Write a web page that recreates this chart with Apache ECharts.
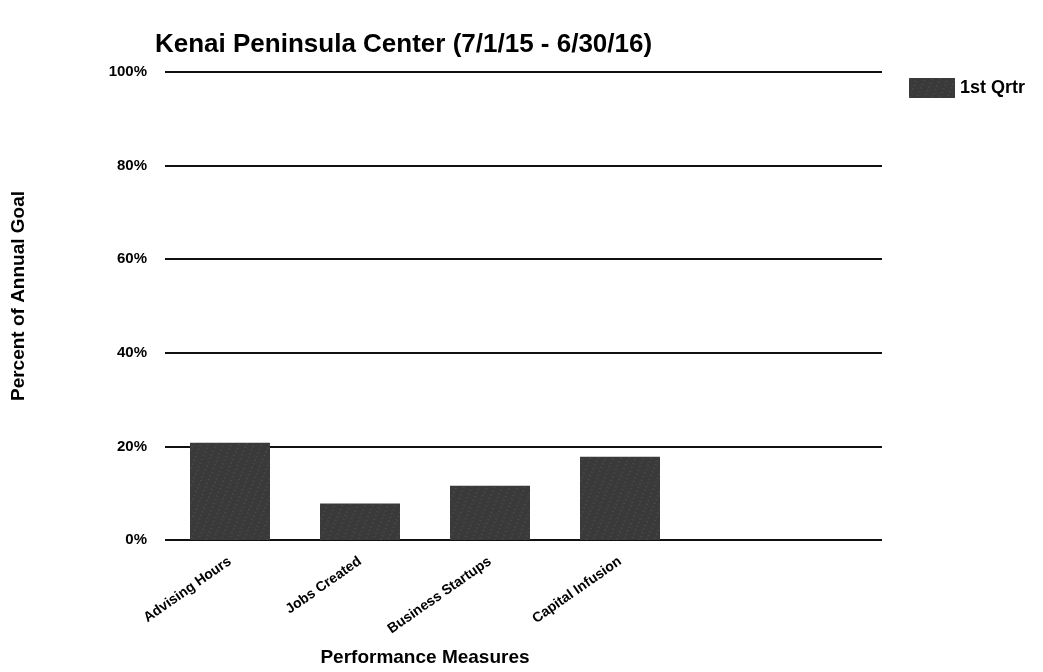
<!doctype html>
<html lang="en">
<head>
    <meta charset="utf-8">
    <title>Kenai Peninsula Center</title>
    <script src="https://cdn.jsdelivr.net/npm/echarts@6/dist/echarts.min.js"></script>
    <style>
        html, body { margin: 0; padding: 0; background: #fff; }
        #main { width: 1043px; height: 672px; }
    </style>
</head>
<body>
    <div id="main"></div>
    <script>
        // chart data
        var categories = ['Advising Hours', 'Jobs Created', 'Business Startups', 'Capital Infusion'];
        var firstQrtr = [20.8, 7.8, 11.6, 17.8];
        var yTicks = [0, 20, 40, 60, 80, 100];

        var font = '"Liberation Sans", Arial, sans-serif';
        var myChart = echarts.init(document.getElementById('main'));

        var option = {
            backgroundColor: '#fff',
            textStyle: { fontFamily: font, color: '#000' },
            title: {
                text: 'Kenai Peninsula Center (7/1/15 - 6/30/16)',
                left: 150,
                top: 27,
                textStyle: { fontFamily: font, fontSize: 26, fontWeight: 'bold', color: '#000' }
            },
            legend: {
                data: ['1st Qrtr'],
                icon: 'rect',
                left: 904,
                top: 73,
                itemWidth: 46,
                itemHeight: 20,
                itemGap: 6,
                textStyle: { fontFamily: font, fontSize: 18, fontWeight: 'bold', color: '#000' }
            },
            grid: [
                // bars
                { left: 165, right: 358, top: 72, bottom: 132, outerBoundsMode: 'none', containLabel: false },
                // gridlines across full width
                { left: 165, right: 161, top: 72, bottom: 132, outerBoundsMode: 'none', containLabel: false }
            ],
            xAxis: [{
                type: 'category',
                gridIndex: 0,
                data: categories,
                axisLine: { show: false },
                axisTick: { show: false },
                axisLabel: {
                    rotate: 35,
                    interval: 0,
                    margin: 20,
                    fontFamily: font,
                    fontSize: 14,
                    fontWeight: 'bold',
                    color: '#000'
                },
                name: 'Performance Measures',
                nameLocation: 'middle',
                nameGap: 108,
                nameTextStyle: { fontFamily: font, fontSize: 19, fontWeight: 'bold', color: '#000' }
            }, {
                type: 'value',
                gridIndex: 1,
                show: false
            }],
            yAxis: [{
                type: 'value',
                gridIndex: 0,
                min: yTicks[0],
                max: yTicks[yTicks.length - 1],
                interval: 20,
                axisLine: { show: false },
                axisTick: { show: false },
                splitLine: { show: false },
                axisLabel: {
                    formatter: '{value}%',
                    margin: 18,
                    fontFamily: font,
                    fontSize: 15,
                    fontWeight: 'bold',
                    color: '#000'
                },
                name: 'Percent of Annual Goal',
                nameLocation: 'middle',
                nameRotate: 90,
                nameGap: 137,
                nameTextStyle: { fontFamily: font, fontSize: 19, fontWeight: 'bold', color: '#000', padding: [0, 0, 0, 20] }
            }, {
                type: 'value',
                gridIndex: 1,
                min: yTicks[0],
                max: yTicks[yTicks.length - 1],
                interval: 20,
                axisLine: { show: false },
                axisTick: { show: false },
                axisLabel: { show: false },
                splitLine: { show: true, lineStyle: { color: '#111', width: 2 } }
            }],
            series: [{
                name: '1st Qrtr',
                type: 'bar',
                xAxisIndex: 0,
                yAxisIndex: 0,
                data: firstQrtr,
                barWidth: 80,
                itemStyle: {
                    color: '#3a3a3a',
                    decal: {
                        symbol: 'rect',
                        symbolSize: 0.5,
                        color: 'rgba(255,255,255,0.35)',
                        dashArrayX: [2, 5],
                        dashArrayY: [1, 3],
                        rotation: 0.4
                    }
                }
            }]
        };

        myChart.setOption(option);
    </script>
</body>
</html>
